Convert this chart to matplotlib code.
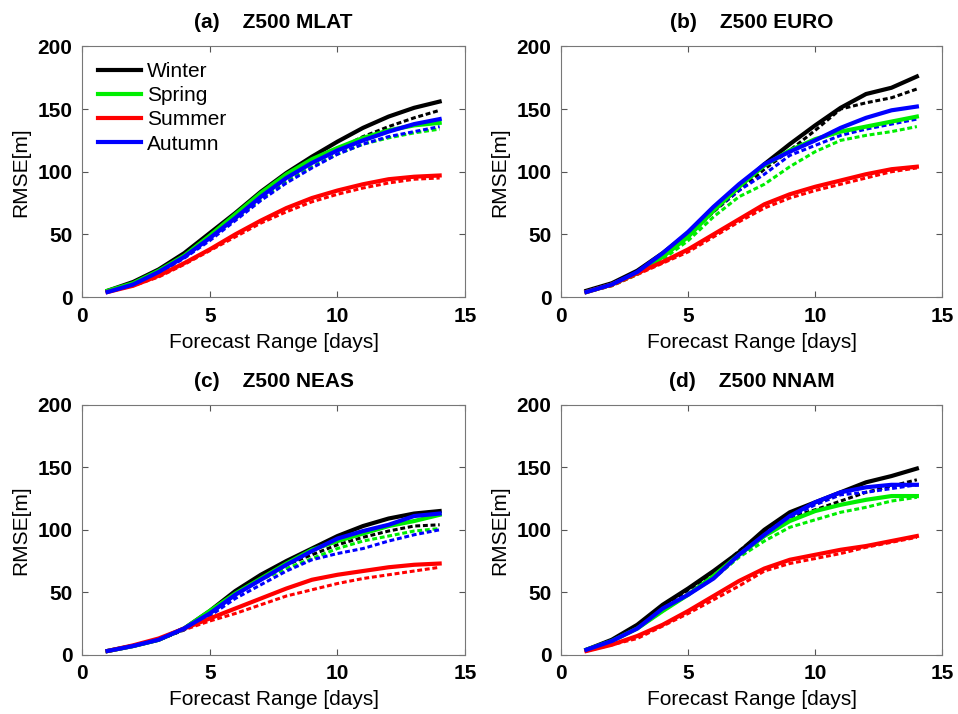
import numpy as np
import matplotlib
matplotlib.use("Agg")
import matplotlib.pyplot as plt

plt.rcParams.update({
    "font.family": ["Liberation Sans", "DejaVu Sans"],
    "font.size": 15,
    "xtick.direction": "in",
    "ytick.direction": "in",
    "xtick.top": True,
    "ytick.right": True,
})

days = np.arange(1, 15)
seasons = ["Winter", "Spring", "Summer", "Autumn"]
colors = ["#000000", "#00ee00", "#ff0000", "#0000ff"]
titles = ["(a)    Z500 MLAT", "(b)    Z500 EURO", "(c)    Z500 NEAS", "(d)    Z500 NNAM"]

# solid curves
mlat_solid = [
    [5, 12, 22, 35, 51, 67, 84, 99, 112, 124, 135, 144, 151, 156],
    [5, 11, 21, 33, 49, 66, 83, 98, 110, 119, 127, 133, 137, 139],
    [4, 9, 17, 27, 38, 50, 61, 71, 79, 85, 90, 94, 96, 97],
    [4, 10, 20, 32, 47, 63, 80, 95, 107, 117, 125, 132, 138, 142],
]
# dashed curves
mlat_dash = [
    [5, 11, 21, 33, 48, 64, 80, 94, 107, 118, 128, 136, 143, 149],
    [5, 11, 20, 32, 47, 62, 78, 92, 104, 114, 122, 127, 131, 134],
    [4, 9, 16, 26, 37, 48, 59, 68, 76, 82, 87, 91, 94, 95],
    [4, 10, 19, 31, 45, 61, 77, 91, 103, 114, 122, 128, 132, 136],
]

euro_solid = [
    [5, 11, 21, 35, 51, 69, 88, 106, 122, 137, 151, 162, 167, 176],
    [4, 10, 19, 32, 48, 69, 88, 105, 117, 126, 132, 136, 140, 144],
    [4, 10, 19, 28, 38, 50, 62, 74, 82, 88, 93, 98, 102, 104],
    [4, 10, 20, 35, 52, 72, 90, 106, 116, 125, 135, 143, 149, 152],
]
euro_dash = [
    [4, 10, 20, 33, 49, 68, 85, 102, 117, 133, 150, 155, 159, 166],
    [4, 9, 18, 30, 45, 64, 80, 90, 104, 116, 125, 129, 132, 136],
    [4, 9, 18, 27, 36, 48, 60, 71, 79, 85, 90, 95, 100, 103],
    [4, 10, 20, 34, 50, 69, 85, 98, 113, 121, 129, 134, 138, 142],
]

neas_solid = [
    [3, 7, 12, 21, 35, 51, 64, 75, 85, 95, 103, 109, 113, 115],
    [3, 7, 12, 21, 35, 49, 61, 73, 84, 91, 97, 103, 107, 112],
    [3, 7.5, 13, 21, 29, 37, 45, 53, 60, 64, 67, 70, 72, 73],
    [3, 7, 12, 21, 33, 48, 60, 72, 83, 93, 99, 104, 111, 113],
]
neas_dash = [
    [3, 7, 12, 20, 32, 48, 61, 72, 80, 88, 94, 99, 103, 104],
    [3, 7, 12, 20, 32, 48, 60, 69, 77, 85, 91, 95, 99, 101],
    [3, 7, 12, 20, 27, 33, 40, 47, 52, 57, 61, 64, 67, 70],
    [3, 7, 12, 20, 31, 45, 56, 67, 76, 81, 85, 91, 96, 100],
]

nnam_solid = [
    [4, 12, 24, 40, 53, 67, 82, 100, 114, 122, 130, 138, 143, 149],
    [4, 11, 21, 35, 48, 63, 80, 95, 107, 115, 120, 124, 127, 127],
    [3, 8, 15, 24, 35, 47, 59, 69, 76, 80, 84, 87, 91, 95],
    [4, 11, 21, 37, 48, 61, 80, 96, 111, 122, 130, 134, 136, 136],
]
nnam_dash = [
    [4, 11, 23, 37, 52, 65, 83, 99, 110, 116, 123, 130, 135, 140],
    [4, 11, 21, 35, 48, 61, 78, 91, 102, 108, 114, 118, 123, 126],
    [3, 8, 13, 23, 33, 44, 55, 67, 73, 77, 81, 86, 90, 94],
    [4, 11, 23, 37, 49, 63, 79, 95, 110, 120, 128, 130, 133, 136],
]

panels = [
    (mlat_solid, mlat_dash),
    (euro_solid, euro_dash),
    (neas_solid, neas_dash),
    (nnam_solid, nnam_dash),
]

fig = plt.figure(figsize=(9.58, 7.14), dpi=100)
rects = [
    [0.0856, 0.584, 0.400, 0.351],
    [0.5856, 0.584, 0.398, 0.351],
    [0.0856, 0.083, 0.400, 0.350],
    [0.5856, 0.083, 0.398, 0.350],
]

for i, (solid, dash) in enumerate(panels):
    ax = fig.add_axes(rects[i])
    # dashed first so the solid lines sit on top
    for j in range(4):
        ax.plot(days, dash[j], color=colors[j], lw=2.2, linestyle=(0, (1.6, 0.9)))
    for j in range(4):
        ax.plot(days, solid[j], color=colors[j], lw=3, label=seasons[j])
    ax.set_xlim(0, 15)
    ax.set_ylim(0, 200)
    ax.set_xticks([0, 5, 10, 15])
    ax.set_yticks([0, 50, 100, 150, 200])
    for lbl in ax.get_xticklabels() + ax.get_yticklabels():
        lbl.set_fontweight("bold")
        lbl.set_fontsize(15)
    ax.tick_params(length=4, width=0.8, color="#555555", pad=7)
    for s in ax.spines.values():
        s.set_color("#777777")
        s.set_linewidth(0.8)
    ax.set_xlabel("Forecast Range [days]", fontsize=15, labelpad=5)
    ax.set_ylabel("RMSE[m]", fontsize=15, labelpad=5)
    ax.set_title(titles[i], fontsize=15, fontweight="bold", pad=13)
    if i == 0:
        ax.legend(loc="upper left", frameon=False, fontsize=15, handlelength=2.1,
                  handletextpad=0.25, labelspacing=0.25, borderaxespad=0.35)

fig.savefig("out.png", dpi=100)
